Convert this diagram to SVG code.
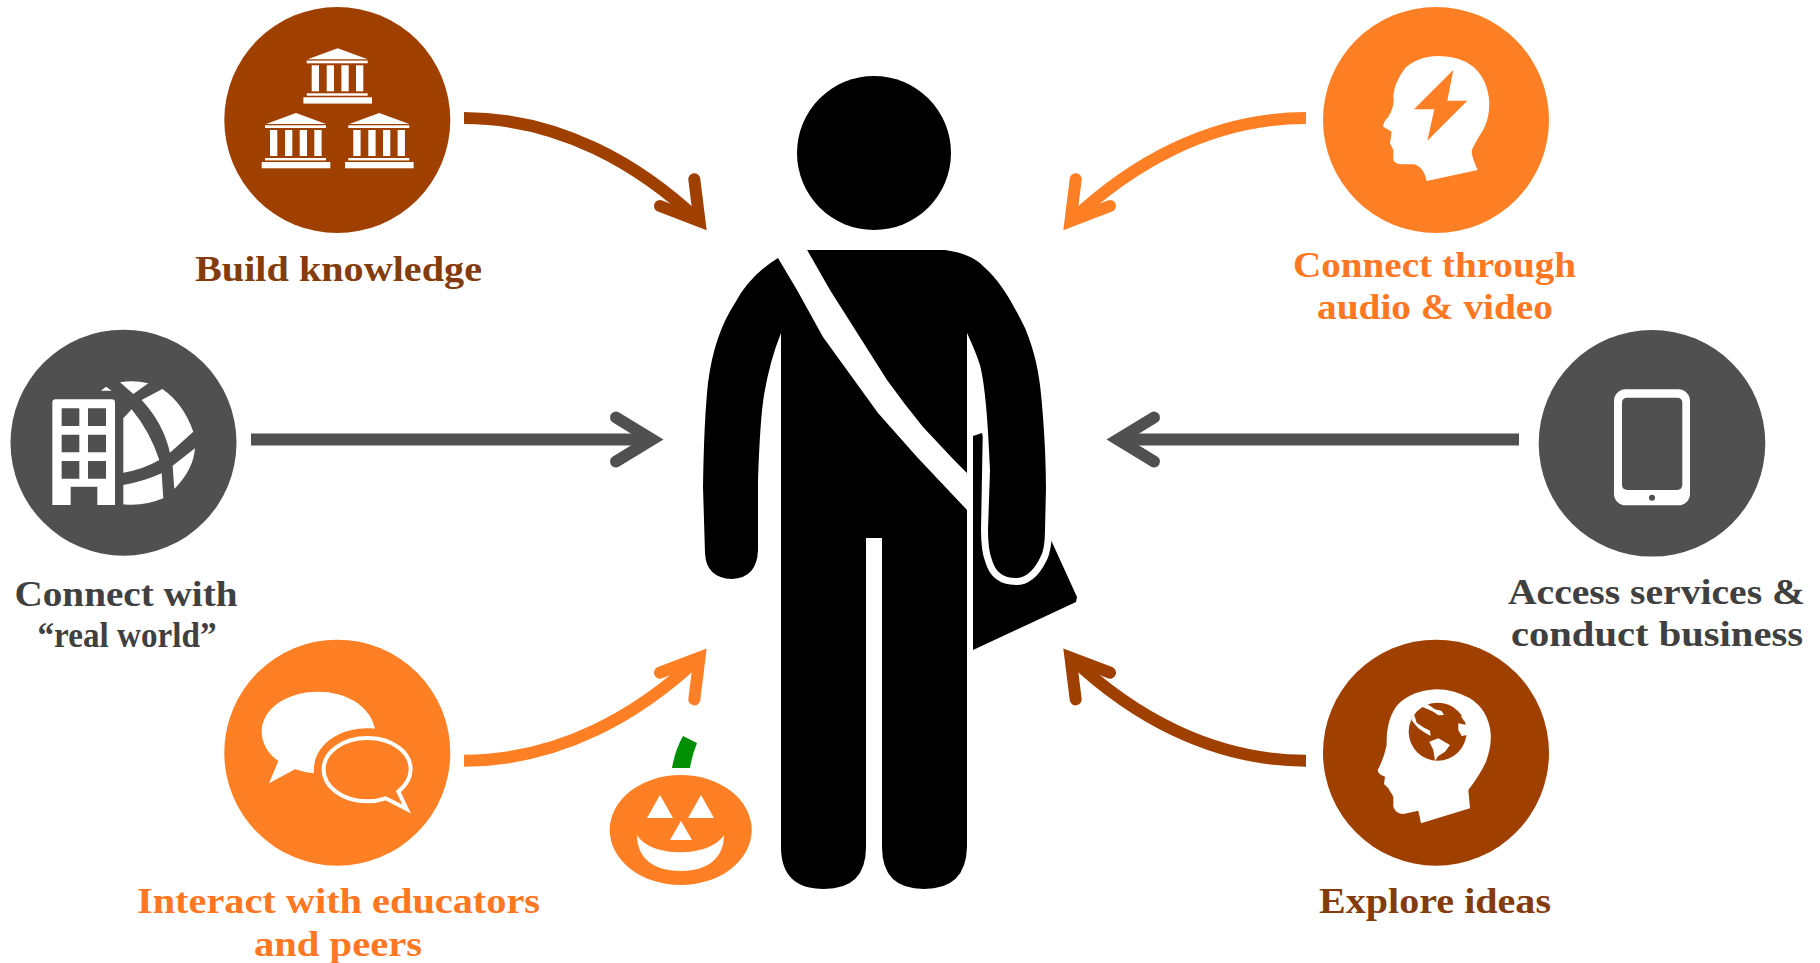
<svg xmlns="http://www.w3.org/2000/svg" xmlns:xlink="http://www.w3.org/1999/xlink" width="1820" height="963" viewBox="0 0 1820 963">
<style>
.t{font-family:"Liberation Serif",serif;font-weight:700;font-size:36px;text-anchor:middle}
.tb{fill:#843c0c}.to{fill:#ff7722}.tg{fill:#404040}
.b{fill:#a04000}.o{fill:#ff7f24}.g{fill:#505050}.w{fill:#fff}
.sh{fill:none;stroke-width:12;stroke-linecap:butt}
.hd{fill:none;stroke-width:12;stroke-linecap:round;stroke-linejoin:miter;stroke-miterlimit:10}
.sb{stroke:#a04000}.so{stroke:#ff7f24}.sg{stroke:#505050}
</style>
<defs>
<g id="bank" class="w">
<path d="M0 0L30 11H-30Z"/>
<rect x="-31" y="12.3" width="61" height="2.7"/>
<rect x="-26" y="17" width="7.3" height="26"/><rect x="-11" y="17" width="7.3" height="26"/><rect x="3.7" y="17" width="7.3" height="26"/><rect x="18.3" y="17" width="7.3" height="26"/>
<rect x="-31" y="45" width="61" height="2.4"/>
<rect x="-34.3" y="49" width="68.6" height="6.3"/>
</g>
</defs>
<rect width="1820" height="963" fill="#fff"/>

<g id="connectors">
<path class="sh sb" d="M464 118C560 118 640 165 699 221"/><path class="hd sb" d="M694.3 179.3L699.5 221L660 206"/>
<path class="sh so" d="M1306 118C1210 118 1130 165 1071 221"/><path class="hd so" d="M1075.7 179.3L1070.5 221L1110 206"/>
<path class="sh sg" d="M251 439.5H650"/><path class="hd sg" d="M616 417.5L652 439.5L616 461.5"/>
<path class="sh sg" d="M1519 439.5H1120"/><path class="hd sg" d="M1154 417.5L1118 439.5L1154 461.5"/>
<path class="sh so" d="M464 760.7C560 760.7 640 713.7 699 657.7"/><path class="hd so" d="M694.3 699.4L699.5 657.7L660 672.7"/>
<path class="sh sb" d="M1306 760.7C1210 760.7 1130 713.7 1071 657.7"/><path class="hd sb" d="M1075.7 699.4L1070.5 657.7L1110 672.7"/>
</g>

<g id="person">
<path d="M973 436L982 433L1000 500L1051 540L1077 597L1076 602L973 650Z"/>
<path fill="none" stroke="#fff" stroke-width="14" stroke-linejoin="round" d="M990 420L988 530Q988 550 992 560Q997 578 1016 578Q1030 578 1040 558Q1045 550 1046 520"/>
<circle cx="874" cy="153" r="77"/>
<path d="M806 250H945C965 253 975 258 983 266C1000 281 1010 298 1025 328C1035 352 1038 370 1040 385C1044 420 1046 460 1046 487L1045 530Q1045 550 1040 558Q1030 578 1016 578Q997 578 992 560Q988 550 988 530L990 470C988 420 985 385 980 365Q975 350 967 333V847Q966 889 924 889Q882 889 882 847V538H866V847Q866 889 824 889Q781 889 781 847V333Q770 360 764 395Q760 420 758 480V550Q757 578 732 579Q706 578 705 553L703 487Q704 420 708 383Q714 335 735 303Q750 275 778 258Z"/>
<path class="w" d="M772 248H806L830 290L887 380Q905 405 923 427L954 460L967 473V510L917 457L878 413L823 337L797 290L778 258Z"/>
</g>

<g id="pumpkin">
<path fill="#008f00" d="M683 736L697 743Q692 755 690 768H672Q675 750 683 736Z"/>
<ellipse class="o" cx="680.7" cy="830" rx="71" ry="55"/>
<path class="w" d="M660 795L673 818H647ZM701 795L714 818H688ZM681 821L692 840H670ZM637 835C650 858 710 858 724 835C724 860 705 871 681 871C656 871 637 860 637 835Z"/>
</g>

<g id="build-knowledge">
<circle class="b" cx="337.3" cy="120" r="113"/>
<use xlink:href="#bank" href="#bank" x="337.7" y="48.3"/><use xlink:href="#bank" href="#bank" x="296" y="113"/><use xlink:href="#bank" href="#bank" x="379.3" y="113"/>
<text class="t tb" x="338.5" y="281" textLength="287" lengthAdjust="spacingAndGlyphs">Build knowledge</text>
</g>

<g id="connect-real-world">
<circle class="g" cx="123.5" cy="442.7" r="113"/>
<g transform="translate(0 320) scale(.3333)">
<path class="w" d="M168 238H335Q345 238 345 248V555H292V500H212V555H157V248Q157 238 168 238Z"/>
<path class="g" d="M185 265h53v53h-53zM264 265h54v53h-54zM185 344h53v53h-53zM264 344h54v53h-54zM185 423h53v53h-53zM264 423h54v53h-54z"/>
<path class="w" d="M360 187Q402 180 445 190L400 222ZM303 212L318 200L335 212ZM425 240L487 207Q550 250 580 335L510 398Q490 310 425 240ZM370 295L395 268Q450 335 478 420Q430 448 370 458ZM370 495Q430 485 485 460L490 535Q430 560 370 553ZM518 437L585 385Q580 450 523 507Z"/>
</g>
<text class="t tg" x="126" y="606" textLength="223" lengthAdjust="spacingAndGlyphs">Connect with</text>
<text class="t tg" x="127" y="647" textLength="179" lengthAdjust="spacingAndGlyphs">“real world”</text>
</g>

<g id="interact">
<circle class="o" cx="337.3" cy="752.7" r="113"/>
<g transform="translate(210 630) scale(.3333)">
<path class="w" d="M495 296C480 225 405 185 325 185C225 185 155 240 155 305C155 340 175 372 205 393L177 460L255 418Q285 428 312 430C305 340 400 285 495 296Z"/>
<path fill="none" stroke="#fff" stroke-width="12" stroke-miterlimit="10" d="M565 485Q602 455 602 418C602 365 545 324 472 324C400 324 341 365 341 418C341 472 400 514 472 514Q500 514 527 505L590 537Z"/>
</g>
<text class="t to" x="338.5" y="913" textLength="403" lengthAdjust="spacingAndGlyphs">Interact with educators</text>
<text class="t to" x="338" y="956" textLength="168" lengthAdjust="spacingAndGlyphs">and peers</text>
</g>

<g id="connect-audio-video">
<circle class="o" cx="1436" cy="120" r="113"/>
<g transform="translate(1310 0) scale(.3333)">
<path class="w" d="M350 543L503 510Q480 460 487 447Q497 425 518 392Q538 360 538 310Q535 240 490 200Q450 168 385 168Q320 170 285 205Q255 245 250 285Q255 320 235 350Q218 368 220 380L245 395L240 430L250 450V478Q252 492 275 493H310Q340 498 350 543Z"/>
<path class="o" d="M430 210L412 302H472L352 422L373 328H312Z"/>
</g>
<text class="t to" x="1434.5" y="277" textLength="283" lengthAdjust="spacingAndGlyphs">Connect through</text>
<text class="t to" x="1435" y="319" textLength="236" lengthAdjust="spacingAndGlyphs">audio &amp; video</text>
</g>

<g id="access-services">
<circle class="g" cx="1652" cy="443.3" r="113.3"/>
<g transform="translate(1500 320) scale(.3333)">
<rect class="w" x="342" y="208" width="228" height="348" rx="35"/>
<rect class="g" x="366" y="233" width="181" height="277" rx="15"/>
<circle class="g" cx="456" cy="533" r="9"/>
</g>
<text class="t tg" x="1656.5" y="604" textLength="297" lengthAdjust="spacingAndGlyphs">Access services &amp;</text>
<text class="t tg" x="1657" y="646" textLength="292" lengthAdjust="spacingAndGlyphs">conduct business</text>
</g>

<g id="explore-ideas">
<circle class="b" cx="1436" cy="752.7" r="113"/>
<g transform="translate(1310 630) scale(.3333)">
<path class="w" d="M333 580L480 535L475 480Q510 435 528 395Q545 350 542 310Q535 240 480 205Q430 178 380 178Q310 180 265 222Q228 265 230 345Q222 385 203 420Q205 435 225 440L222 462L235 475L250 500L250 530Q258 552 280 552L325 542Z"/>
<circle class="b" cx="383" cy="305" r="87"/>
<path class="w" d="M358 335L385 325L420 345L405 365L385 378L375 392L370 360ZM312 252L320 278L340 292L360 302L362 318L345 308L325 295L304 270ZM445 280L470 285L472 315L455 318L445 300ZM330 228L352 222L375 238L395 243L402 255L385 256L370 245L350 236ZM452 258L468 262L478 278L462 272Z"/>
</g>
<text class="t tb" x="1435" y="913" textLength="232" lengthAdjust="spacingAndGlyphs">Explore ideas</text>
</g>
</svg>
